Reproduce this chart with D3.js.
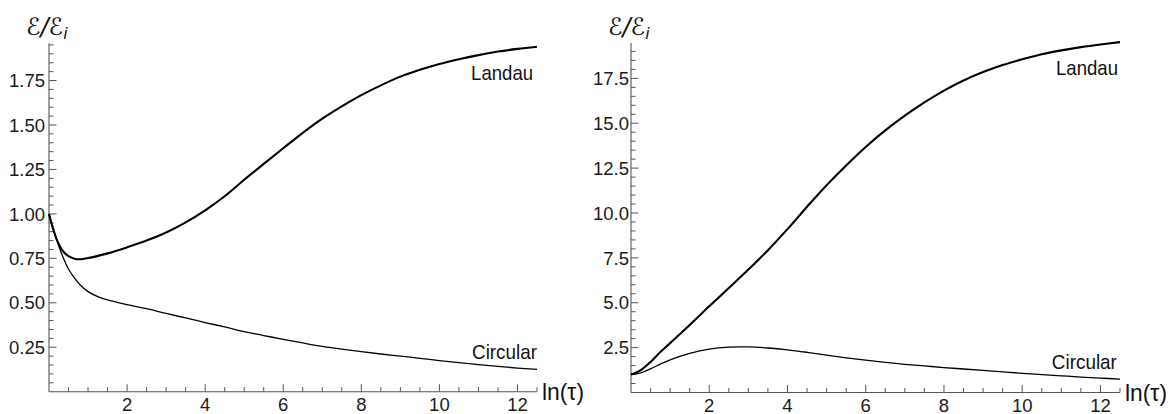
<!DOCTYPE html>
<html>
<head>
<meta charset="utf-8">
<script src="https://cdn.jsdelivr.net/npm/d3@7"></script>
<style>
  html, body { margin: 0; padding: 0; background: #fff; }
  svg { display: block; }
  .tick-label { font-family: "Liberation Sans", Arial, sans-serif; font-size: 18.5px; fill: #1a1a1a; }
  .curve-label { font-family: "Liberation Sans", Arial, sans-serif; fill: #111; }
  .axis-title { font-family: "DejaVu Sans", "Liberation Sans", sans-serif; fill: #111; }
</style>
</head>
<body>
<svg id="chart" width="1172" height="414"></svg>
<script>
// ln(tau) sample points
const tauLeftLandau   = [0, 0.1, 0.2, 0.3, 0.4, 0.5, 0.7, 1.0, 1.5, 2.0, 2.5, 3.0, 3.5, 4.0, 4.5, 5.0, 5.5, 6.0, 6.5, 7.0, 7.5, 8.0, 8.5, 9.0, 9.5, 10.0, 10.5, 11.0, 11.5, 12.0, 12.5];
const energyLeftLandau = [1.00, 0.92, 0.855, 0.81, 0.78, 0.762, 0.745, 0.752, 0.778, 0.812, 0.85, 0.895, 0.952, 1.02, 1.099, 1.192, 1.281, 1.369, 1.456, 1.536, 1.605, 1.668, 1.723, 1.772, 1.81, 1.843, 1.870, 1.893, 1.913, 1.928, 1.940];

const tauLeftCircular   = [0, 0.1, 0.2, 0.3, 0.4, 0.5, 0.6, 0.8, 1.0, 1.25, 1.5, 2.0, 2.5, 3.0, 3.5, 4.0, 4.5, 5.0, 5.5, 6.0, 6.5, 7.0, 7.5, 8.0, 8.5, 9.0, 9.5, 10.0, 10.5, 11.0, 11.5, 12.0, 12.5];
const energyLeftCircular = [1.00, 0.92, 0.85, 0.79, 0.735, 0.69, 0.655, 0.60, 0.563, 0.535, 0.516, 0.49, 0.467, 0.44, 0.415, 0.389, 0.364, 0.338, 0.316, 0.294, 0.274, 0.255, 0.239, 0.225, 0.212, 0.200, 0.188, 0.175, 0.163, 0.152, 0.142, 0.133, 0.125];

const tauRightLandau   = [0, 0.25, 0.5, 0.75, 1.0, 1.5, 2.0, 2.5, 3.0, 3.5, 4.0, 4.5, 5.0, 5.5, 6.0, 6.5, 7.0, 7.5, 8.0, 8.5, 9.0, 9.5, 10.0, 10.5, 11.0, 11.5, 12.0, 12.5];
const energyRightLandau = [1.0, 1.25, 1.7, 2.25, 2.75, 3.76, 4.8, 5.82, 6.85, 7.93, 9.1, 10.35, 11.55, 12.65, 13.68, 14.6, 15.42, 16.16, 16.82, 17.38, 17.85, 18.24, 18.56, 18.84, 19.06, 19.24, 19.39, 19.52];

const tauRightCircular   = [0, 0.25, 0.5, 0.75, 1.0, 1.5, 2.0, 2.5, 3.0, 3.5, 4.0, 4.5, 5.0, 5.5, 6.0, 6.5, 7.0, 7.5, 8.0, 8.5, 9.0, 9.5, 10.0, 10.5, 11.0, 11.5, 12.0, 12.5];
const energyRightCircular = [1.0, 1.1, 1.32, 1.58, 1.82, 2.18, 2.42, 2.53, 2.54, 2.48, 2.38, 2.24, 2.08, 1.93, 1.8, 1.68, 1.57, 1.48, 1.39, 1.31, 1.23, 1.15, 1.07, 1.0, 0.93, 0.86, 0.8, 0.75];

// Axis ticks
const xMajorTicks = [2, 4, 6, 8, 10, 12];
const yMajorTicksLeft = [0.25, 0.50, 0.75, 1.00, 1.25, 1.50, 1.75];
const yMajorTicksRight = [2.5, 5.0, 7.5, 10.0, 12.5, 15.0, 17.5];

const svg = d3.select("#chart");
const axisColor = "#555";

function drawPanel(cfg) {
  const x = d3.scaleLinear().domain([0, 12.5]).range([cfg.x0, cfg.x1]);
  const y = d3.scaleLinear().domain([0, cfg.yMax]).range([cfg.y0, cfg.y1]);
  const g = svg.append("g");

  // x axis (ticks point into the plot)
  const xAxis = g.append("g").attr("transform", `translate(0,${cfg.y0})`);
  xAxis.append("line").attr("x1", x(0)).attr("x2", x(12.5)).attr("y1", 0).attr("y2", 0)
    .attr("stroke", axisColor).attr("stroke-width", 1.1);
  const xMinor = d3.range(0.5, 12.51, 0.5).filter(v => !xMajorTicks.includes(v));
  xAxis.selectAll(".xminor").data(xMinor).enter().append("line")
    .attr("x1", d => x(d)).attr("x2", d => x(d)).attr("y1", 0).attr("y2", -4.5)
    .attr("stroke", axisColor).attr("stroke-width", 1);
  xAxis.selectAll(".xmajor").data(xMajorTicks).enter().append("line")
    .attr("x1", d => x(d)).attr("x2", d => x(d)).attr("y1", 0).attr("y2", -7.5)
    .attr("stroke", axisColor).attr("stroke-width", 1);
  xAxis.selectAll(".xlab").data(xMajorTicks).enter().append("text")
    .attr("class", "tick-label").attr("x", d => x(d)).attr("y", 19)
    .attr("text-anchor", "middle").text(d => d);

  // y axis (ticks point into the plot)
  const yAxis = g.append("g").attr("transform", `translate(${cfg.x0},0)`);
  yAxis.append("line").attr("x1", 0).attr("x2", 0).attr("y1", y(0)).attr("y2", y(cfg.yMax))
    .attr("stroke", axisColor).attr("stroke-width", 1.1);
  const yMinor = d3.range(cfg.yMinorStep, cfg.yMax, cfg.yMinorStep)
    .filter(v => !cfg.yMajor.some(m => Math.abs(m - v) < 1e-6));
  yAxis.selectAll(".yminor").data(yMinor).enter().append("line")
    .attr("x1", 0).attr("x2", 4.5).attr("y1", d => y(d)).attr("y2", d => y(d))
    .attr("stroke", axisColor).attr("stroke-width", 1);
  yAxis.selectAll(".ymajor").data(cfg.yMajor).enter().append("line")
    .attr("x1", 0).attr("x2", 7.5).attr("y1", d => y(d)).attr("y2", d => y(d))
    .attr("stroke", axisColor).attr("stroke-width", 1);
  yAxis.selectAll(".ylab").data(cfg.yMajor).enter().append("text")
    .attr("class", "tick-label").attr("x", -cfg.labelGap).attr("y", d => y(d))
    .attr("dy", "0.36em").attr("text-anchor", "end").text(d => cfg.fmt(d));

  // curves
  const line = d3.line().x(d => x(d[0])).y(d => y(d[1])).curve(d3.curveCatmullRom.alpha(0.5));
  g.append("path").datum(d3.zip(cfg.circX, cfg.circY)).attr("d", line)
    .attr("fill", "none").attr("stroke", "#000").attr("stroke-width", 1.3);
  g.append("path").datum(d3.zip(cfg.landX, cfg.landY)).attr("d", line)
    .attr("fill", "none").attr("stroke", "#000").attr("stroke-width", 2.1);

  // curve labels
  g.append("text").attr("class", "curve-label").attr("x", x(cfg.landLabel[0])).attr("y", y(cfg.landLabel[1]))
    .attr("text-anchor", "end").attr("font-size", 21)
    .attr("textLength", 62).attr("lengthAdjust", "spacingAndGlyphs").text("Landau");
  g.append("text").attr("class", "curve-label").attr("x", x(cfg.circLabel[0])).attr("y", y(cfg.circLabel[1]))
    .attr("text-anchor", "end").attr("font-size", 21)
    .attr("textLength", 65).attr("lengthAdjust", "spacingAndGlyphs").text("Circular");

  // axis titles
  g.append("text").attr("class", "curve-label").attr("x", cfg.x1 + 5).attr("y", cfg.y0 + 8)
    .attr("font-size", 24).attr("textLength", 42).attr("lengthAdjust", "spacingAndGlyphs")
    .text("ln(τ)");
  const yt = g.append("text").attr("class", "axis-title").attr("x", cfg.titleX).attr("y", 35)
    .attr("font-size", 24).attr("font-style", "italic");
  yt.append("tspan").text("ℰ/ℰ");
  yt.append("tspan").attr("font-size", 16).attr("dy", 4).text("i");
}

drawPanel({
  x0: 49, x1: 537, y0: 391.7, y1: 43.2, yMax: 1.96,
  yMajor: yMajorTicksLeft, yMinorStep: 0.05, labelGap: 4,
  fmt: d3.format(".2f"),
  landX: tauLeftLandau, landY: energyLeftLandau,
  circX: tauLeftCircular, circY: energyLeftCircular,
  landLabel: [12.4, 1.755], circLabel: [12.5, 0.184],
  titleX: 26
});

drawPanel({
  x0: 631, x1: 1120, y0: 392.5, y1: 43, yMax: 19.47,
  yMajor: yMajorTicksRight, yMinorStep: 0.5, labelGap: 2,
  fmt: d3.format(".1f"),
  landX: tauRightLandau, landY: energyRightLandau,
  circX: tauRightCircular, circY: energyRightCircular,
  landLabel: [12.45, 17.69], circLabel: [12.42, 1.31],
  titleX: 608
});
</script>
</body>
</html>
